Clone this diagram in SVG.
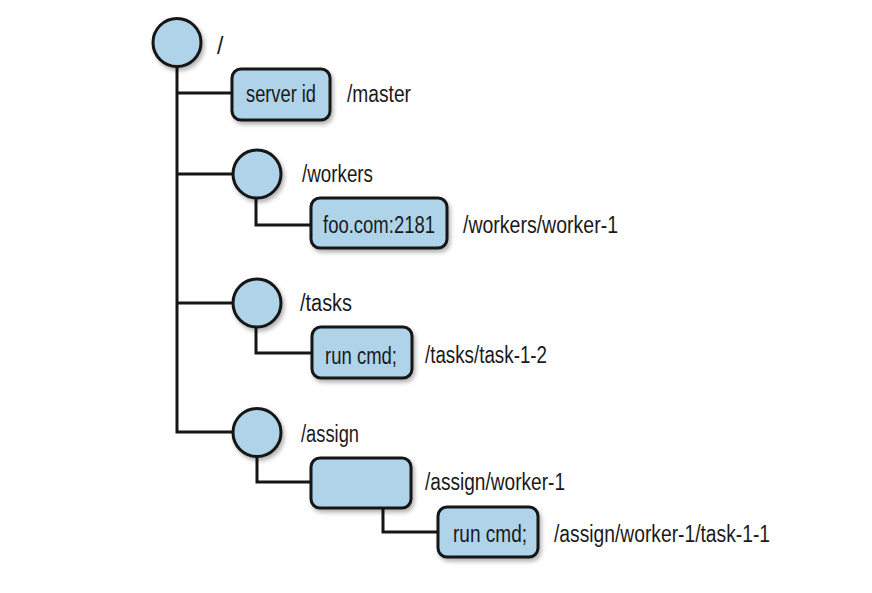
<svg xmlns="http://www.w3.org/2000/svg" width="872" height="593" viewBox="0 0 872 593">
<defs>
<filter id="sh" x="-20%" y="-20%" width="150%" height="160%">
<feDropShadow dx="2" dy="3" stdDeviation="2" flood-color="#000" flood-opacity="0.3"/>
</filter>
<style>
.n{fill:#afd4ea;stroke:#151515;stroke-width:3;filter:url(#sh)}
.c{fill:none;stroke:#151515;stroke-width:3;stroke-linejoin:miter}
.t{font-family:"Liberation Sans",Arial,sans-serif;font-size:23px;fill:#1a1a1a}
</style>
</defs>
<rect width="872" height="593" fill="#fff"/>
<g id="connectors">
<path class="c" d="M177 66 V432 H233"/>
<path class="c" d="M177 93 H232"/>
<path class="c" d="M177 174 H233"/>
<path class="c" d="M177 303 H233"/>
<path class="c" d="M256 197 V225 H311"/>
<path class="c" d="M256 326 V353 H312"/>
<path class="c" d="M257 456 V482 H311"/>
<path class="c" d="M383 508 V532 H438"/>
</g>
<g id="root">
<circle class="n" cx="177" cy="42.5" r="24"/>
<text class="t" x="217" y="54">/</text>
</g>
<g id="master">
<rect class="n" x="232" y="69" width="98" height="51" rx="9"/>
<text class="t" x="246" y="102" textLength="70" lengthAdjust="spacingAndGlyphs">server id</text>
<text class="t" x="347" y="102" textLength="64" lengthAdjust="spacingAndGlyphs">/master</text>
</g>
<g id="workers">
<circle class="n" cx="257" cy="174" r="24"/>
<text class="t" x="302" y="182" textLength="71" lengthAdjust="spacingAndGlyphs">/workers</text>
</g>
<g id="worker-1">
<rect class="n" x="311" y="198" width="136" height="50" rx="9"/>
<text class="t" x="323" y="233" textLength="112" lengthAdjust="spacingAndGlyphs">foo.com:2181</text>
<text class="t" x="463" y="233" textLength="155" lengthAdjust="spacingAndGlyphs">/workers/worker-1</text>
</g>
<g id="tasks">
<circle class="n" cx="257" cy="303" r="24"/>
<text class="t" x="300" y="311" textLength="52" lengthAdjust="spacingAndGlyphs">/tasks</text>
</g>
<g id="task-1-2">
<rect class="n" x="312" y="327" width="100" height="51" rx="9"/>
<text class="t" x="325" y="364" textLength="72" lengthAdjust="spacingAndGlyphs">run cmd;</text>
<text class="t" x="425" y="363" textLength="122" lengthAdjust="spacingAndGlyphs">/tasks/task-1-2</text>
</g>
<g id="assign">
<circle class="n" cx="257" cy="432.5" r="24"/>
<text class="t" x="301" y="442" textLength="58" lengthAdjust="spacingAndGlyphs">/assign</text>
</g>
<g id="assign-worker-1">
<rect class="n" x="311" y="458" width="100" height="50" rx="9"/>
<text class="t" x="425" y="490" textLength="140" lengthAdjust="spacingAndGlyphs">/assign/worker-1</text>
</g>
<g id="task-1-1">
<rect class="n" x="438" y="507" width="100" height="50" rx="9"/>
<text class="t" x="453" y="542" textLength="74" lengthAdjust="spacingAndGlyphs">run cmd;</text>
<text class="t" x="554" y="542" textLength="216" lengthAdjust="spacingAndGlyphs">/assign/worker-1/task-1-1</text>
</g>
</svg>
